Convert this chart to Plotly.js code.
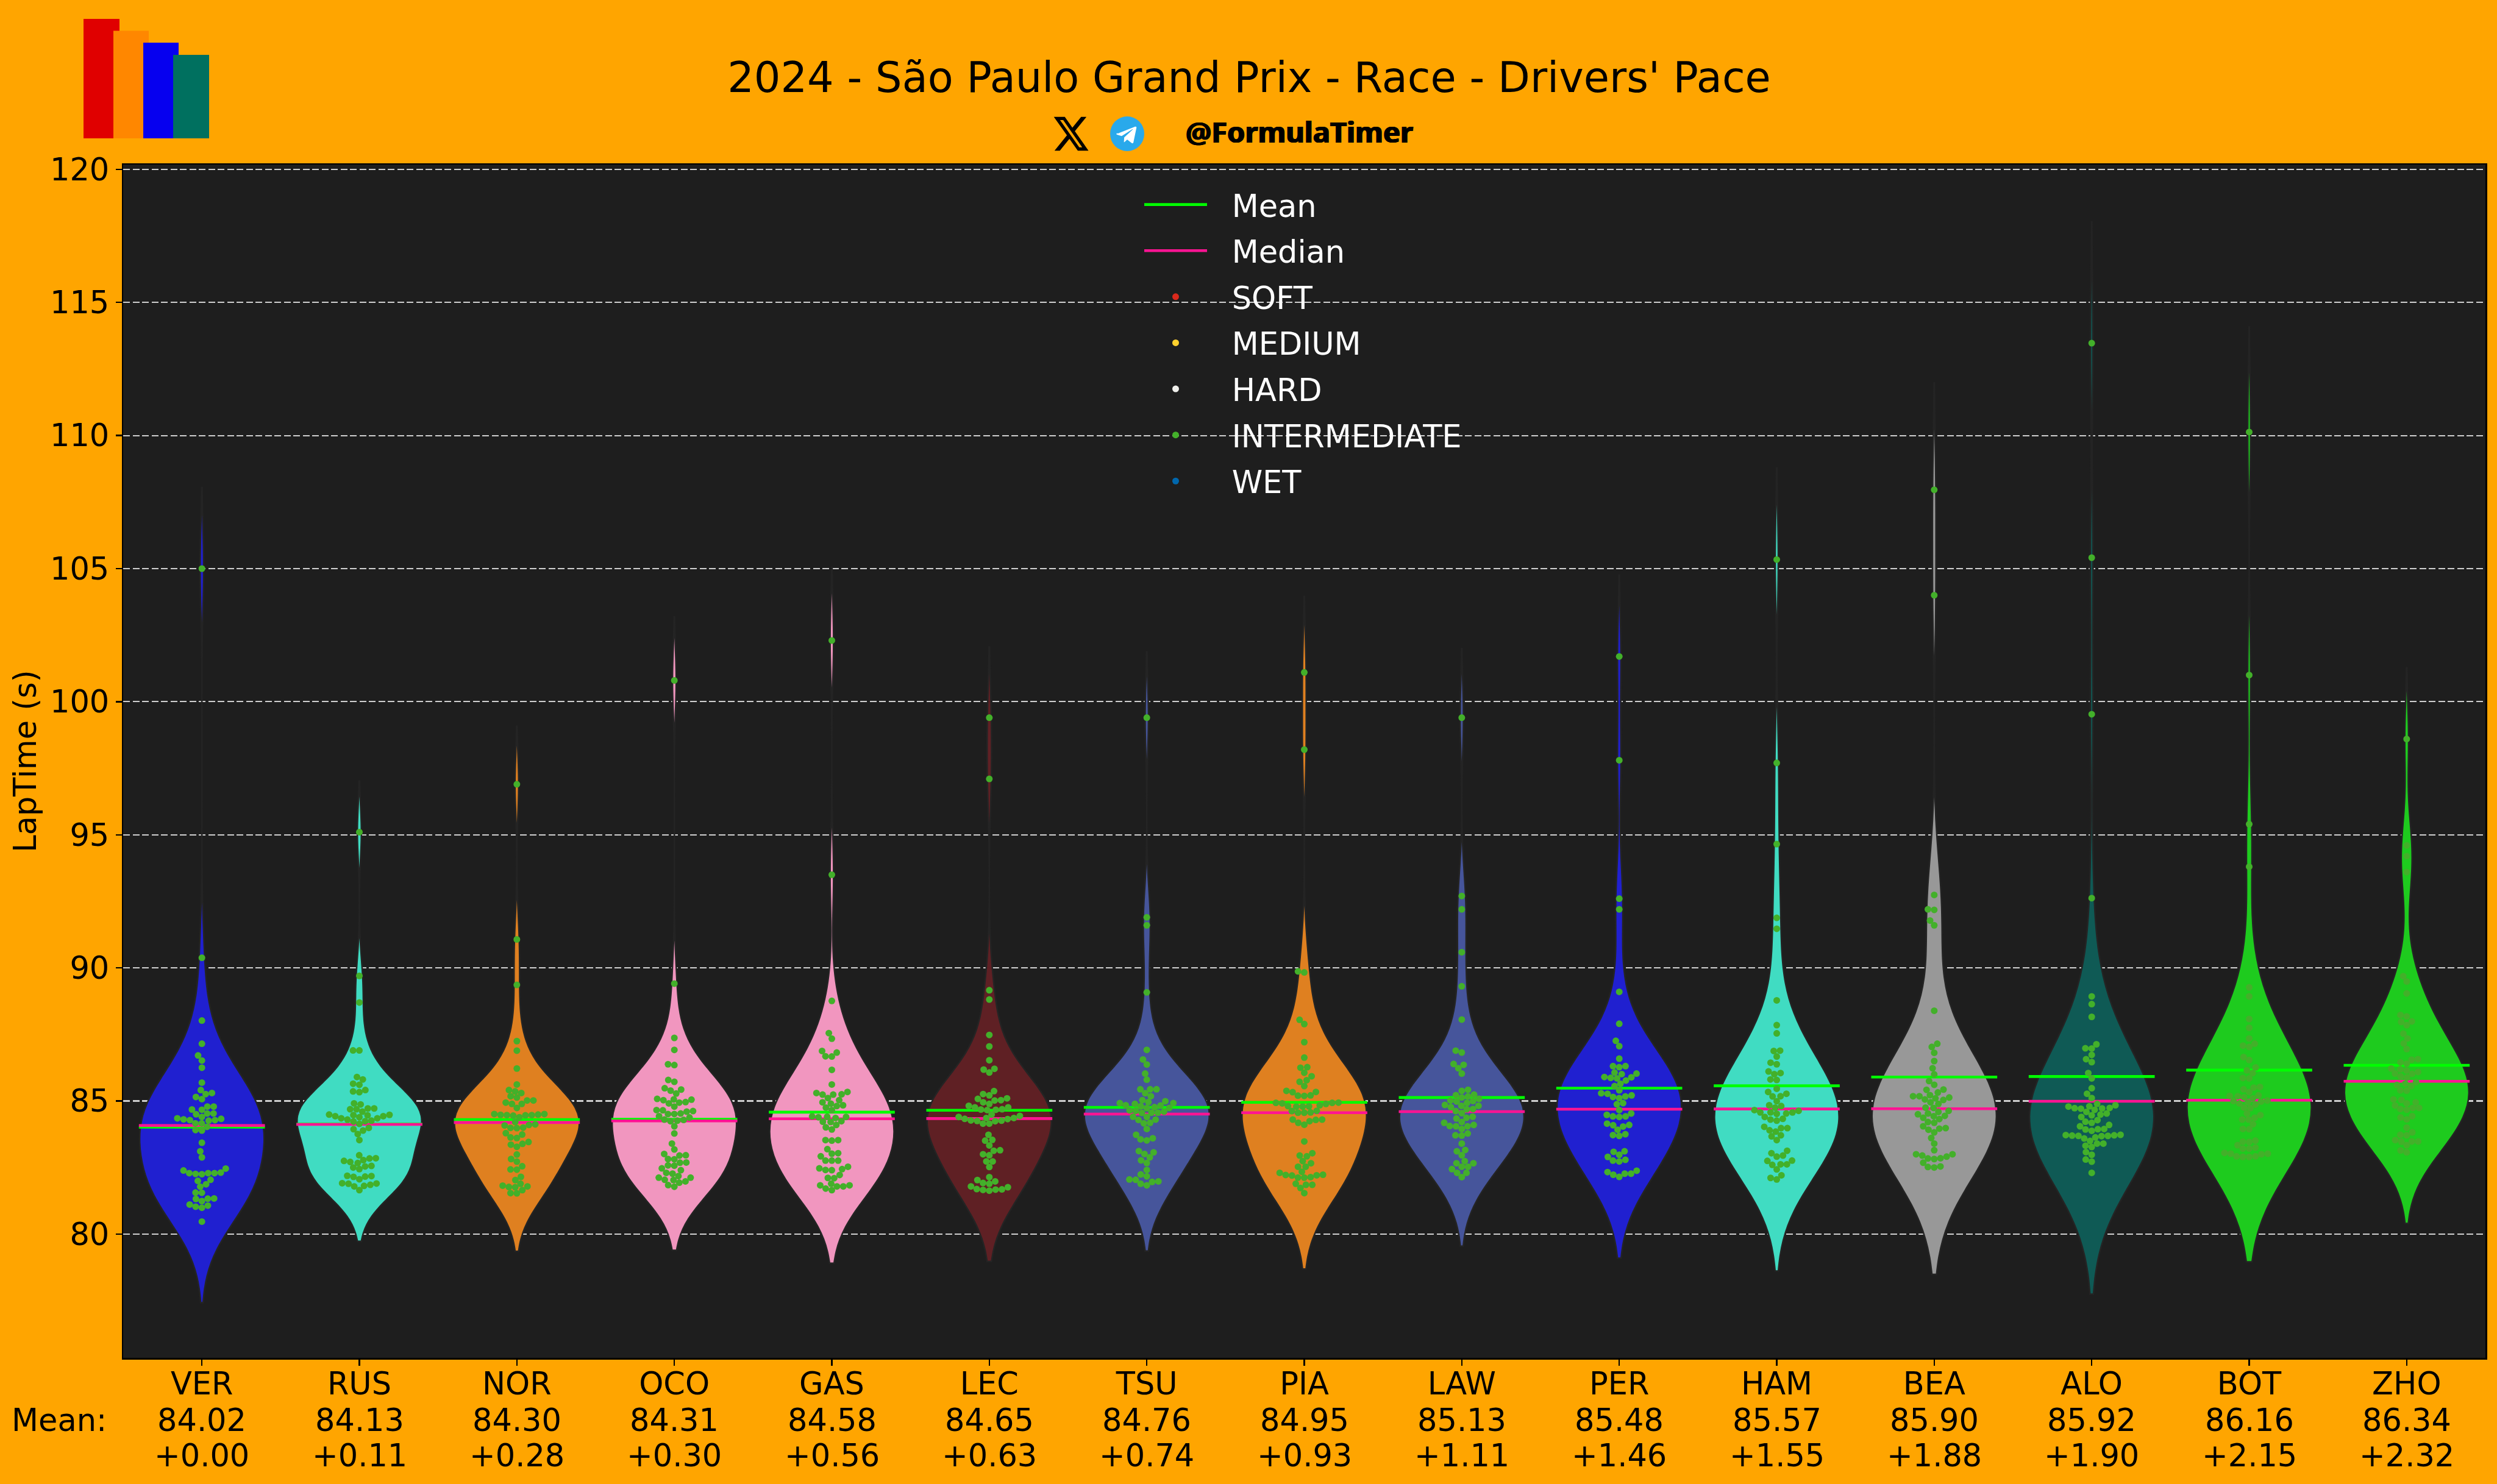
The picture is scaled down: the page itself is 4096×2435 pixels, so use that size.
<!DOCTYPE html>
<html><head><meta charset="utf-8">
<script src="https://cdn.plot.ly/plotly-3.0.1.min.js"></script>
<style>html,body{margin:0;padding:0;background:#ffa500}</style></head>
<body><div id="chart" style="width:4096px;height:2435px"></div>
<script>
const drivers=["VER","RUS","NOR","OCO","GAS","LEC","TSU","PIA","LAW","PER","HAM","BEA","ALO","BOT","ZHO"];
const means=[84.02,84.13,84.30,84.31,84.58,84.65,84.76,84.95,85.13,85.48,85.57,85.90,85.92,86.16,86.34];
const deltas=[0.00,0.11,0.28,0.30,0.56,0.63,0.74,0.93,1.11,1.46,1.55,1.88,1.90,2.15,2.32];
const medians=[84.08,84.12,84.19,84.25,84.33,84.34,84.51,84.56,84.60,84.69,84.70,84.71,84.99,85.03,85.74];
const violinColors=["#2020d0","#40dcc2","#df8020","#f196bf","#f196bf","#5f2024","#46559b","#df8020","#46559b","#2020d0","#40dcc2","#989898","#0f5a55","#1ecb1e","#1ecb1e"];
const compounds=["SOFT","MEDIUM","HARD","INTERMEDIATE","WET"];
const compoundColors=["#da291c","#ffd12e","#f0f0ec","#43b02a","#0067ad"];

const lapsVER=[105.0,90.38,88.02,87.15,86.71,86.52,86.25,85.69,85.41,85.30,85.26,85.15,85.07,84.79,84.79,84.68,84.67,84.53,84.53,84.50,84.40,84.35,84.33,84.31,84.28,84.28,84.26,84.16,84.16,84.03,83.91,83.89,83.43,83.11,82.88,82.46,82.39,82.31,82.29,82.29,82.29,82.26,82.25,82.04,82.00,81.87,81.78,81.56,81.55,81.34,81.33,81.32,81.24,81.11,81.07,81.03,80.99,80.47];
const lapsRUS=[95.1,89.70,88.70,86.90,86.90,85.90,85.81,85.65,85.61,85.41,85.36,85.33,84.91,84.87,84.72,84.72,84.69,84.69,84.60,84.49,84.48,84.47,84.46,84.43,84.43,84.39,84.35,84.35,84.30,84.26,84.24,84.23,84.14,83.99,83.94,83.89,83.76,83.53,82.96,82.85,82.84,82.78,82.75,82.71,82.67,82.56,82.54,82.50,82.44,82.19,82.18,82.16,82.15,82.06,81.91,81.90,81.89,81.85,81.81,81.79,81.65];
const lapsNOR=[96.9,91.07,89.36,87.25,86.89,86.22,85.62,85.41,85.36,85.30,85.18,85.13,85.02,85.02,84.94,84.89,84.89,84.74,84.51,84.51,84.49,84.48,84.47,84.47,84.46,84.45,84.39,84.21,84.12,84.10,84.08,84.00,83.99,83.98,83.79,83.74,83.63,83.61,83.46,83.39,83.36,83.28,82.99,82.82,82.72,82.55,82.43,82.42,82.15,82.03,81.89,81.82,81.79,81.77,81.76,81.65,81.54,81.53];
const lapsOCO=[100.8,89.41,87.37,86.92,86.38,86.35,85.79,85.72,85.48,85.43,85.39,85.28,85.08,85.06,85.05,85.03,84.96,84.94,84.91,84.79,84.66,84.65,84.62,84.60,84.53,84.51,84.51,84.43,84.38,84.30,84.29,84.26,84.24,84.05,83.78,83.40,83.18,83.01,82.96,82.95,82.82,82.81,82.69,82.68,82.58,82.57,82.47,82.40,82.30,82.27,82.18,82.12,82.12,82.04,82.03,81.98,81.93,81.84,81.78];
const lapsGAS=[102.3,93.5,88.76,87.55,87.34,86.88,86.82,86.68,86.67,86.17,85.62,85.34,85.30,85.25,85.24,85.24,85.11,85.03,84.95,84.90,84.84,84.81,84.75,84.66,84.42,84.41,84.40,84.39,84.36,84.24,84.22,84.21,84.10,84.01,83.93,83.53,83.53,83.51,83.19,83.04,83.02,82.92,82.76,82.76,82.76,82.53,82.47,82.44,82.41,82.40,82.22,82.11,82.10,81.89,81.83,81.83,81.79,81.79,81.71,81.65];
const lapsLEC=[99.4,97.1,89.16,88.81,87.48,87.05,86.53,86.21,86.18,86.07,85.37,85.26,85.21,85.10,85.08,85.03,85.02,84.95,84.89,84.82,84.76,84.76,84.69,84.68,84.67,84.66,84.49,84.44,84.40,84.36,84.36,84.33,84.32,84.27,84.26,84.25,84.24,84.15,84.15,83.73,83.54,83.51,83.33,83.15,83.13,83.00,82.96,82.73,82.73,82.52,82.14,82.03,81.98,81.92,81.89,81.79,81.76,81.69,81.68,81.67,81.66,81.63];
const lapsTSU=[99.4,91.9,91.6,89.08,86.92,86.56,86.37,86.03,85.80,85.44,85.44,85.44,85.29,85.18,85.03,84.99,84.96,84.92,84.92,84.89,84.84,84.83,84.80,84.77,84.74,84.73,84.65,84.63,84.60,84.56,84.56,84.55,84.41,84.40,84.30,84.29,84.18,84.16,83.95,83.73,83.60,83.56,83.52,83.12,83.07,83.01,82.88,82.77,82.67,82.41,82.24,82.17,82.05,82.04,81.98,81.96,81.89,81.83];
const lapsPIA=[101.1,98.2,89.87,89.83,88.05,87.89,87.21,86.63,86.27,86.25,86.06,85.93,85.78,85.72,85.56,85.38,85.34,85.33,85.21,85.20,85.19,84.94,84.93,84.93,84.91,84.89,84.84,84.81,84.80,84.79,84.79,84.63,84.62,84.57,84.56,84.56,84.30,84.30,84.29,84.24,84.18,84.11,83.48,83.04,82.95,82.92,82.74,82.66,82.53,82.53,82.34,82.30,82.23,82.22,82.21,82.20,82.14,82.12,82.12,81.89,81.85,81.85,81.73,81.54];
const lapsLAW=[99.4,92.7,92.2,90.59,89.31,88.06,86.89,86.82,86.39,86.36,86.23,86.03,85.42,85.38,85.24,85.22,85.17,85.13,85.08,85.02,85.00,84.98,84.93,84.85,84.82,84.82,84.77,84.70,84.69,84.62,84.54,84.41,84.37,84.34,84.21,84.18,84.10,84.06,84.05,84.05,83.95,83.78,83.71,83.70,83.40,83.16,83.11,82.96,82.74,82.66,82.66,82.53,82.53,82.44,82.30,82.30,82.14];
const lapsPER=[101.7,97.8,92.6,92.2,89.1,87.9,87.26,87.06,86.59,86.31,86.31,86.27,86.07,86.03,86.01,85.90,85.89,85.87,85.85,85.77,85.65,85.56,85.40,85.29,85.27,85.21,85.17,85.15,85.11,84.92,84.88,84.66,84.53,84.48,84.42,84.42,84.40,84.15,84.10,84.09,84.04,83.92,83.75,83.72,83.69,83.11,83.09,82.98,82.90,82.79,82.76,82.73,82.38,82.33,82.27,82.27,82.23,82.15];
const lapsHAM=[105.34,97.7,94.65,91.88,91.47,88.78,87.85,87.54,86.89,86.88,86.67,86.44,86.38,86.11,86.05,86.01,85.81,85.79,85.46,85.34,85.27,85.18,85.17,84.99,84.84,84.81,84.75,84.66,84.63,84.57,84.57,84.57,84.53,84.52,84.40,84.33,84.30,84.26,84.03,83.98,83.98,83.90,83.85,83.71,83.67,83.53,83.13,83.04,82.95,82.91,82.76,82.75,82.62,82.62,82.60,82.43,82.21,82.11,82.05];
const lapsBEA=[107.96,104.0,92.74,92.2,92.18,91.78,91.6,88.39,87.15,87.03,86.81,86.50,86.23,86.00,85.75,85.61,85.43,85.42,85.32,85.22,85.18,85.18,85.13,85.10,85.06,85.04,84.95,84.89,84.75,84.74,84.63,84.59,84.53,84.50,84.44,84.43,84.37,84.32,84.21,84.18,84.05,83.98,83.96,83.92,83.82,83.61,83.40,83.15,83.00,83.00,82.95,82.91,82.85,82.84,82.82,82.68,82.54,82.52,82.50];
const lapsALO=[113.47,105.41,99.53,92.62,88.93,88.64,88.16,87.13,86.98,86.97,86.73,86.57,86.46,86.05,85.85,85.48,85.27,85.11,84.89,84.84,84.80,84.79,84.74,84.73,84.72,84.71,84.67,84.59,84.53,84.49,84.46,84.40,84.28,84.22,84.18,84.10,84.05,83.95,83.94,83.93,83.88,83.73,83.72,83.71,83.70,83.69,83.69,83.68,83.63,83.59,83.50,83.40,83.40,83.32,83.27,83.08,82.98,82.80,82.72,82.30];
const lapsBOT=[110.13,101.0,95.4,93.8,89.27,88.93,88.08,87.75,87.35,87.15,87.08,87.03,86.65,86.54,86.26,86.15,86.05,85.86,85.85,85.53,85.50,85.44,85.33,85.21,85.19,85.18,85.14,85.10,85.02,85.00,84.98,84.95,84.91,84.87,84.75,84.73,84.53,84.47,84.37,84.30,84.30,84.13,83.95,83.94,83.51,83.47,83.46,83.34,83.25,83.21,83.21,83.05,83.02,83.02,83.00,82.92,82.92,82.90,82.90];
const lapsZHO=[98.6,94.6,94.2,93.6,89.69,89.49,89.04,88.23,88.18,87.99,87.97,87.85,87.53,87.35,87.16,86.95,86.57,86.55,86.45,86.40,86.22,86.19,86.14,86.09,86.03,86.02,85.92,85.88,85.71,85.65,85.60,85.56,85.40,85.39,85.06,85.04,84.95,84.91,84.83,84.74,84.74,84.70,84.67,84.43,84.38,84.31,84.00,83.82,83.73,83.71,83.53,83.48,83.48,83.47,83.34,83.14,83.07];
const allLaps=[lapsVER,lapsRUS,lapsNOR,lapsOCO,lapsGAS,lapsLEC,lapsTSU,lapsPIA,lapsLAW,lapsPER,lapsHAM,lapsBEA,lapsALO,lapsBOT,lapsZHO];

const W=4096,H=2435,L=202,R=4077,T=270,B=2228;
const yRange=[75.35,120.18],xRange=[-0.5,14.5];
const pxX=(R-L)/(xRange[1]-xRange[0]),pxY=(B-T)/(yRange[1]-yRange[0]);
const paperX=p=>(p-L)/(R-L),paperY=p=>(B-p)/(B-T);

// Scott bandwidth, as seaborn's KDE uses
function scott(a){const n=a.length,m=a.reduce((s,v)=>s+v,0)/n;
  const sd=Math.sqrt(a.reduce((s,v)=>s+(v-m)*(v-m),0)/(n-1));return sd*Math.pow(n,-0.2);}
// Beeswarm placement in pixels, returns offsets in x-axis units
function swarm(a,d){const s=[...a].sort((p,q)=>p-q),placed=[];
  for(const v of s){const py=v*pxY;const near=placed.filter(o=>Math.abs(o.y-py)<d);
    const cand=[0];for(const n of near){const dx=Math.sqrt(d*d-(n.y-py)*(n.y-py));cand.push(n.x-dx,n.x+dx);}
    cand.sort((p,q)=>Math.abs(p)-Math.abs(q)||p-q);
    let x=0;for(const c of cand){if(near.every(n=>(n.x-c)*(n.x-c)+(n.y-py)*(n.y-py)>=d*d-1e-6)){x=c;break;}}
    placed.push({x,y:py,v});}
  return placed.map(o=>({dx:o.x/pxX,v:o.v}));}

const traces=[];
drivers.forEach((d,i)=>{traces.push({type:'violin',x0:i,y:allLaps[i],name:d,legendgroup:d,showlegend:false,
  width:0.79,scalemode:'width',bandwidth:scott(allLaps[i]),spanmode:'soft',side:'both',points:false,
  fillcolor:violinColors[i],line:{color:'#242424',width:2.5},opacity:1,
  box:{visible:false},meanline:{visible:false},hoverinfo:'skip'});});
const segX=[],meanY=[],medY=[];
drivers.forEach((d,i)=>{segX.push(i-0.4,i+0.4,null);meanY.push(means[i],means[i],null);medY.push(medians[i],medians[i],null);});
const pad='\u2002\u2009';
traces.push({type:'scatter',mode:'lines',name:pad+'Mean',legendgroup:'g1',x:segX,y:meanY,line:{color:'#00ff00',width:4.6},hoverinfo:'skip'});
traces.push({type:'scatter',mode:'lines',name:pad+'Median',legendgroup:'g2',x:segX,y:medY,line:{color:'#ff1493',width:4.6},hoverinfo:'skip'});
const dotX=[],dotY=[];
drivers.forEach((d,i)=>{for(const p of swarm(allLaps[i],10.4)){dotX.push(i+p.dx);dotY.push(p.v);}});
traces.push({type:'scatter',mode:'markers',showlegend:false,x:dotX,y:dotY,marker:{color:compoundColors[3],size:11},hoverinfo:'skip'});
compounds.forEach((c,k)=>traces.push({type:'scatter',mode:'markers',name:pad+c,legendgroup:'c'+k,x:[null],y:[null],marker:{color:compoundColors[k],size:11},hoverinfo:'skip'}));

const F='"DejaVu Sans"';
const ann=[];
const rowAnn=(text,x,yp,anchor,xref)=>({text,x,y:paperY(yp),xref:xref||'x',yref:'paper',xanchor:anchor||'center',yanchor:'middle',showarrow:false,font:{family:F,size:51,color:'#000'}});
drivers.forEach((d,i)=>{
  ann.push(rowAnn(means[i].toFixed(2),i,2330));
  ann.push(rowAnn('+'+deltas[i].toFixed(2),i,2388));
});
ann.push(rowAnn('Mean:',paperX(177),2330,'right','paper'));
ann.push({text:'<b>@FormulaTimer</b>',x:paperX(2131),y:paperY(216),xref:'paper',yref:'paper',xanchor:'center',yanchor:'middle',showarrow:false,font:{family:'"Noto Sans"',size:47,color:'#000',shadow:'1px 0 0 #000, -1px 0 0 #000'}});

const logoBars=[["#e00000",137,196,31],["#ff8700",186,244,50.5],["#0600ef",235,293,70],["#00705f",284,343,90]];
const shapes=logoBars.map(b=>({type:'rect',xref:'paper',yref:'paper',x0:paperX(b[1]),x1:paperX(b[2]),y0:paperY(227),y1:paperY(b[3]),fillcolor:b[0],line:{width:0}}));

const xSvg=`<svg xmlns="http://www.w3.org/2000/svg" viewBox="1 2 22 20" preserveAspectRatio="none" width="220" height="200"><path fill="#000" d="M18.244 2.25h3.308l-7.227 8.26 8.502 11.24H16.17l-5.214-6.817L4.99 21.75H1.68l7.73-8.835L1.254 2.25H8.08l4.713 6.231zm-1.161 17.52h1.833L7.084 4.126H5.117z"/></svg>`;
const tgSvg=`<svg xmlns="http://www.w3.org/2000/svg" viewBox="0 0 24 24" width="240" height="240"><circle cx="12" cy="12" r="12" fill="#29a9eb"/><path fill="#fff" d="M5.2 11.9 17.6 7.1c.6-.2 1.1.1.9.9l-2.1 9.9c-.2.7-.6.9-1.2.5l-3.2-2.4-1.6 1.5c-.2.2-.3.3-.7.3l.2-3.3 6-5.4c.3-.2-.1-.4-.4-.2l-7.4 4.7-3.2-1c-.7-.2-.7-.7.3-1.1z"/></svg>`;
const svgUri=s=>'data:image/svg+xml;base64,'+btoa(s);
const images=[
 {source:svgUri(xSvg),xref:'paper',yref:'paper',x:paperX(1728),y:paperY(191),sizex:58/(R-L),sizey:57/(B-T),xanchor:'left',yanchor:'top',sizing:'stretch',layer:'above'},
 {source:svgUri(tgSvg),xref:'paper',yref:'paper',x:paperX(1821),y:paperY(191),sizex:56/(R-L),sizey:57/(B-T),xanchor:'left',yanchor:'top',sizing:'stretch',layer:'above'}];

const layout={width:W,height:H,paper_bgcolor:'#ffa500',plot_bgcolor:'#1e1e1e',showlegend:true,
 margin:{l:L,r:W-R,t:T,b:H-B,pad:0},font:{family:F,color:'#000'},
 title:{text:"2024 - São Paulo Grand Prix - Race - Drivers' Pace",font:{family:F,size:68.6,color:'#000'},x:2049/W,xref:'container',xanchor:'center',y:1-127/H,yref:'container',yanchor:'middle'},
 violinmode:'overlay',
 xaxis:{range:xRange,tickmode:'array',tickvals:drivers.map((d,i)=>i),ticktext:drivers,tickfont:{family:F,size:51,color:'#000'},ticklabelstandoff:-14,
   ticks:'outside',ticklen:10,tickwidth:2.5,tickcolor:'#000',showgrid:false,zeroline:false,showline:true,mirror:true,linecolor:'#000',linewidth:2.5},
 yaxis:{range:yRange,tickmode:'array',tickvals:[80,85,90,95,100,105,110,115,120],ticktext:['80','85','90','95','100','105','110','115','120'],tickfont:{family:F,size:51,color:'#000'},
   ticks:'outside',ticklen:10,tickwidth:2.5,tickcolor:'#000',showgrid:true,gridcolor:'#cfcfcf',gridwidth:2.2,griddash:'11px,4.5px',zeroline:false,showline:true,mirror:true,linecolor:'#000',linewidth:2.5,
   title:{text:'LapTime (s)',font:{family:F,size:51,color:'#000'},standoff:6}},
 legend:{x:paperX(1872),y:paperY(296),xanchor:'left',yanchor:'top',bgcolor:'rgba(0,0,0,0)',borderwidth:0,font:{family:F,size:51,color:'#fff'},
   itemwidth:103,traceorder:'grouped',tracegroupgap:6.3},
 annotations:ann,shapes,images};
Plotly.newPlot('chart',traces,layout,{displayModeBar:false,staticPlot:true});
</script></body></html>
